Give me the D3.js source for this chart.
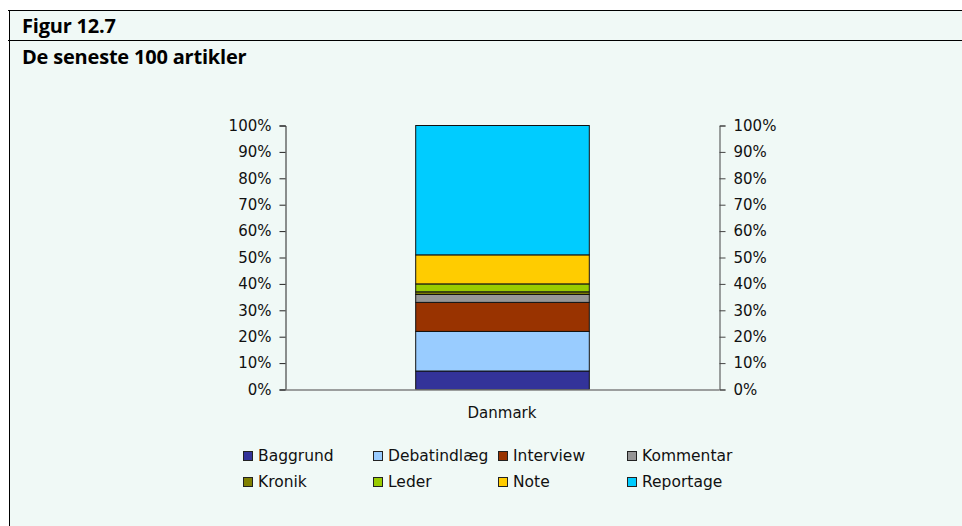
<!DOCTYPE html>
<html>
<head>
<meta charset="utf-8">
<script src="https://cdn.jsdelivr.net/npm/d3@7"></script>
<style>
  body { margin: 0; background: #fff; }
  svg { display: block; }
</style>
</head>
<body>
<div id="graph"></div>
<script>
(function(){
	"use strict";

	// data
	var categories = ["Danmark"];
	var seriesNames = ["Baggrund", "Debatindlæg", "Interview", "Kommentar", "Kronik", "Leder", "Note", "Reportage"];
	var seriesValues = [7, 15, 11, 3, 1, 3, 11, 49]; // percent, Danmark
	var seriesColors = ["#333399", "#99CCFF", "#993300", "#969696", "#808000", "#99CC00", "#FFCC00", "#00CCFF"];
	var tickValues = [0, 10, 20, 30, 40, 50, 60, 70, 80, 90, 100];

	var W = 962, H = 526;
	var svg = d3.select("#graph").append("svg")
		.attr("width", W)
		.attr("height", H);

	// panel background and frame lines
	svg.append("rect").attr("x", 9).attr("y", 10).attr("width", W - 9).attr("height", H - 10).attr("fill", "#f0f9f6");
	svg.append("line").attr("x1", 8).attr("x2", W).attr("y1", 10.5).attr("y2", 10.5).attr("stroke", "#000").attr("stroke-width", 1);
	svg.append("line").attr("x1", 8).attr("x2", W).attr("y1", 40.5).attr("y2", 40.5).attr("stroke", "#000").attr("stroke-width", 1);
	svg.append("line").attr("x1", 9.5).attr("x2", 9.5).attr("y1", 10).attr("y2", H).attr("stroke", "#000").attr("stroke-width", 1);

	svg.append("text").attr("x", 22).attr("y", 33)
		.style("font", "bold 20px 'Open Sans', sans-serif").style("letter-spacing", "-0.2px")
		.attr("fill", "#000").text("Figur 12.7");
	svg.append("text").attr("x", 22).attr("y", 64)
		.style("font", "bold 20px 'Open Sans', sans-serif").style("letter-spacing", "-0.2px")
		.attr("fill", "#000").text("De seneste 100 artikler");

	var left = 285, right = 719, top = 125, bottom = 389;

	var x = d3.scaleBand().domain(categories).range([left, right]).paddingInner(0.6).paddingOuter(0.3);
	var y = d3.scaleLinear().domain([0, 100]).range([bottom, top]);

	// stack the series
	var rows = categories.map(function(c) {
		var r = { cat: c };
		seriesNames.forEach(function(n, i) { r[n] = seriesValues[i]; });
		return r;
	});
	var stacked = d3.stack().keys(seriesNames)(rows);

	var g = svg.append("g");
	g.selectAll(".series")
		.data(stacked)
		.enter().append("g")
		.attr("class", "series")
		.attr("fill", function(d, i) { return seriesColors[i]; })
		.selectAll("rect")
		.data(function(d) { return d; })
		.enter().append("rect")
		.attr("x", function(d) { return x(d.data.cat) + 0.5; })
		.attr("y", function(d) { return y(d[1]) + 0.5; })
		.attr("width", x.bandwidth())
		.attr("height", function(d) { return y(d[0]) - y(d[1]); })
		.attr("stroke", "#111")
		.attr("stroke-width", 1);

	var fmt = function(d) { return d + "%"; };
	var tickFont = "15px 'DejaVu Sans', sans-serif";

	// left axis
	var ax = svg.append("g").attr("transform", "translate(" + (left + 0.5) + ",0.5)")
		.call(d3.axisLeft(y).tickValues(tickValues).tickFormat(fmt).tickSize(6).tickSizeOuter(6).tickPadding(8));
	ax.select(".domain").attr("stroke", "#222");
	ax.selectAll(".tick line").attr("stroke", "#222");
	ax.selectAll("text").style("font", tickFont).attr("fill", "#111");

	// right axis
	var ay = svg.append("g").attr("transform", "translate(" + (right + 0.5) + ",0.5)")
		.call(d3.axisRight(y).tickValues(tickValues).tickFormat(fmt).tickSize(6).tickSizeOuter(6).tickPadding(8));
	ay.select(".domain").attr("stroke", "#444");
	ay.selectAll(".tick line").attr("stroke", "#444");
	ay.selectAll("text").style("font", tickFont).attr("fill", "#111");

	// category axis
	var axb = svg.append("g").attr("transform", "translate(0," + (bottom + 0.5) + ")")
		.call(d3.axisBottom(x).tickSize(0).tickPadding(18));
	axb.select(".domain").attr("stroke", "#808080").attr("stroke-width", 1.5);
	axb.selectAll("text").style("font", tickFont).attr("fill", "#111");

	// legend
	var colX = [243, 373, 498, 627];
	var rowY = [456, 482];
	var legend = svg.selectAll(".legend")
		.data(seriesNames)
		.enter().append("g")
		.attr("class", "legend")
		.attr("transform", function(d, i) { return "translate(" + colX[i % 4] + "," + rowY[Math.floor(i / 4)] + ")"; });
	legend.append("rect")
		.attr("x", 0.5).attr("y", -4.5)
		.attr("width", 9).attr("height", 9)
		.attr("fill", function(d, i) { return seriesColors[i]; })
		.attr("stroke", "#222");
	legend.append("text")
		.attr("x", 15).attr("y", 0).attr("dy", "0.35em")
		.style("font", "15.5px 'DejaVu Sans', sans-serif")
		.attr("fill", "#111")
		.text(function(d) { return d; });
})();
</script>
</body>
</html>
